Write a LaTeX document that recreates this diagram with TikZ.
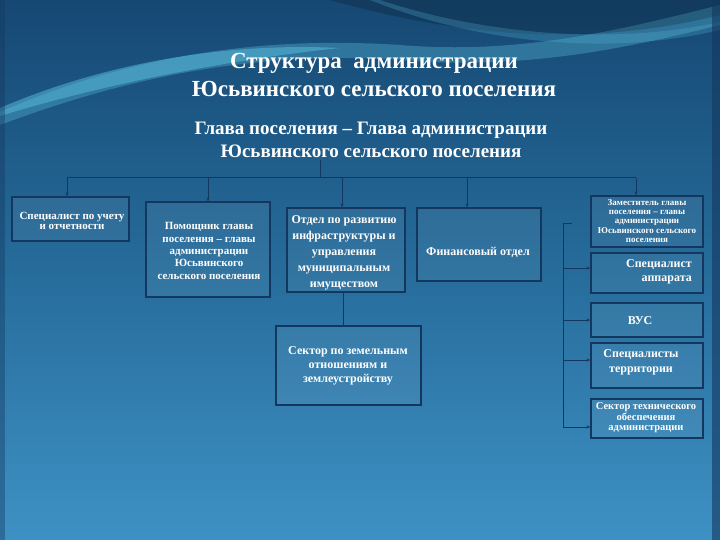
\documentclass[tikz,border=0pt]{standalone}
\usepackage{fontspec}
\setmainfont{Liberation Serif}
\usetikzlibrary{arrows.meta}
\definecolor{bgtop}{RGB}{22,72,115}
\definecolor{bgmid}{RGB}{38,108,155}
\definecolor{bgbot}{RGB}{62,145,196}
\definecolor{navy}{RGB}{20,55,95}
\definecolor{swoosh}{RGB}{90,190,220}
\tikzset{
  box/.style={draw=navy, line width=1.1pt, fill=white, fill opacity=0.06, text opacity=1, inner sep=0pt},
  txt/.style={text=white, align=center, inner sep=0pt},
  conn/.style={draw=navy, line width=1pt},
  arr/.style={conn, -{Stealth[length=4pt,width=3pt]}}
}
\newcommand{\fs}[2]{\bfseries\fontsize{#1}{#2}\selectfont}
\begin{document}
\begin{tikzpicture}[x=1pt,y=-1pt]
\useasboundingbox (0,0) rectangle (720,540);
% background
\shade[top color=bgtop, bottom color=bgbot, middle color=bgmid] (0,0) rectangle (720,540);
% wave decoration
\fill[swoosh, opacity=0.35] (0,112) .. controls (120,60) and (250,35) .. (400,45) .. controls (520,55) and (620,30) .. (720,5) -- (720,25) .. controls (620,50) and (520,70) .. (400,60) .. controls (250,50) and (120,80) .. (0,125) -- cycle;
\fill[swoosh, opacity=0.5] (0,108) .. controls (100,65) and (220,42) .. (340,48) .. controls (300,52) and (150,70) .. (0,116) -- cycle;
\fill[black, opacity=0.18] (330,0) .. controls (420,25) and (560,55) .. (720,15) -- (720,0) -- cycle;
\fill[swoosh, opacity=0.25] (380,0) .. controls (470,30) and (600,48) .. (720,22) -- (720,30) .. controls (600,58) and (470,40) .. (370,0) -- cycle;
\fill[navy, opacity=0.6] (712,0) rectangle (720,540);
\fill[navy, opacity=0.4] (0,0) rectangle (5,540);
% titles
\node[txt, font=\fs{23}{28}] (title) at (374,75) {Структура\ \ администрации\\Юсьвинского сельского поселения};
\node[txt, font=\fs{19}{22.5}] (head) at (371,140) {Глава поселения – Глава администрации\\Юсьвинского сельского поселения};
% boxes
\node[box, minimum width=117pt, minimum height=44pt] (b1) at (70.5,219) {};
\node[txt, font=\fs{11}{10.5}] (t1) at (72,221) {Специалист по учету\\и отчетности};
\node[box, minimum width=124pt, minimum height=95pt] (b2) at (208,249.5) {};
\node[txt, font=\fs{11}{12.3}] (t2) at (209,251) {Помощник главы\\поселения – главы\\администрации\\Юсьвинского\\сельского поселения};
\node[box, minimum width=118pt, minimum height=84pt] (b3) at (346,250) {};
\node[txt, font=\fs{12}{16}] (t3) at (344,253) {Отдел по развитию\\инфраструктуры и\\управления\\муниципальным\\имуществом};
\node[box, minimum width=124pt, minimum height=73pt] (b4) at (479,244.5) {};
\node[txt, font=\fs{12}{14}] (t4) at (478,252) {Финансовый отдел};
\node[box, minimum width=112pt, minimum height=51pt] (b5) at (647,221.5) {};
\node[txt, font=\fs{9}{9.2}] (t5) at (647,221) {Заместитель главы\\поселения – главы\\администрации\\Юсьвинского сельского\\поселения};
\node[box, minimum width=112pt, minimum height=40pt] (b6) at (647,273) {};
\node[txt, font=\fs{12}{14}, align=right, anchor=east] (t6) at (692,272) {Специалист\\аппарата};
\node[box, minimum width=112pt, minimum height=34pt] (b7) at (647,320) {};
\node[txt, font=\fs{12}{14}] (t7) at (640,321) {ВУС};
\node[box, minimum width=112pt, minimum height=45pt] (b8) at (647,365.5) {};
\node[txt, font=\fs{12}{15}] (t8) at (641,362) {Специалисты\\территории};
\node[box, minimum width=112pt, minimum height=39pt] (b9) at (647,418.5) {};
\node[txt, font=\fs{10.5}{10.5}] (t9) at (646,418) {Сектор технического\\обеспечения\\администрации};
\node[box, minimum width=145pt, minimum height=79pt] (b10) at (348.5,365.5) {};
\node[txt, font=\fs{12}{14}] (t10) at (348,366) {Сектор по земельным\\отношениям и\\землеустройству};
% top bus
\coordinate (hd) at (320,160);
\coordinate (bus) at (320,178);
\coordinate (bl) at (67,178);
\coordinate (br) at (636,178);
\draw[conn] (hd) -- (bus);
\draw[conn] (bl) -- (br);
\draw[arr] (bl) -- (b1.north -| bl);
\draw[arr] (208,178) -- (b2.north);
\draw[arr] (342,178) -- (b3.north -| 342,0);
\draw[arr] (467,178) -- (b4.north -| 467,0);
\draw[arr] (br) -- (b5.north -| br);
% down from b3 to b10
\draw[conn] (b3.south -| 343,0) -- (b10.north -| 343,0);
% right bus
\coordinate (rt) at (563,224);
\coordinate (rb) at (563,427);
\draw[conn] (rt) -- (rb);
\draw[conn] (rt) -- (572,224);
\draw[arr] (563,268) -- (b6.west |- 0,268);
\draw[arr] (563,320) -- (b7.west |- 0,320);
\draw[arr] (563,360) -- (b8.west |- 0,360);
\draw[arr] (rb) -- (b9.west |- rb);
\end{tikzpicture}
\end{document}
